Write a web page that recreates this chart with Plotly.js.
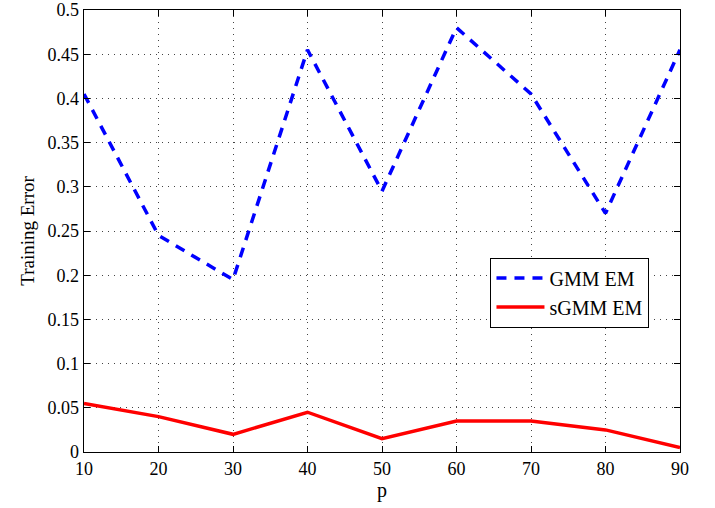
<!DOCTYPE html>
<html><head><meta charset="utf-8">
<script src="https://cdn.plot.ly/plotly-3.0.1.min.js"></script>
<style>body{margin:0;background:#fff}#c{width:715px;height:508px}</style>
</head><body><div id="c"></div>
<script>
const pValues = [10, 20, 30, 40, 50, 60, 70, 80, 90];
const gmmEM = [0.405, 0.245, 0.195, 0.455, 0.295, 0.48, 0.405, 0.27, 0.455];
const sgmmEM = [0.055, 0.04, 0.02, 0.045, 0.015, 0.035, 0.035, 0.025, 0.005];
const yTicks = [0, 0.05, 0.1, 0.15, 0.2, 0.25, 0.3, 0.35, 0.4, 0.45, 0.5];
const yTickText = ['0', '0.05', '0.1', '0.15', '0.2', '0.25', '0.3', '0.35', '0.4', '0.45', '0.5'];

const font = {family: 'Liberation Serif', size: 18, color: '#000'};
const traces = [
  {x: pValues, y: gmmEM, name: 'GMM EM', mode: 'lines', line: {color: '#0000ff', width: 3.5, dash: '10px,8px'}},
  {x: pValues, y: sgmmEM, name: 'sGMM EM', mode: 'lines', line: {color: '#ff0000', width: 3.5}}
];
const axisCommon = {
  showline: true, linecolor: '#000', linewidth: 1.3, mirror: 'ticks',
  ticks: 'inside', ticklen: 6, tickcolor: '#000',
  showgrid: true, gridcolor: '#444', griddash: '1px,5px', gridwidth: 1,
  zeroline: false, tickfont: font
};
const layout = {
  width: 715, height: 508,
  margin: {l: 84, r: 35, t: 10, b: 56},
  paper_bgcolor: '#fff', plot_bgcolor: '#fff',
  font: font,
  showlegend: true,
  legend: {x: 0.682, y: 0.44, xanchor: 'left', yanchor: 'top', bordercolor: '#000', borderwidth: 1,
           itemwidth: 48,
           bgcolor: '#fff', font: {family: 'Liberation Serif', size: 20, color: '#000'}, tracegroupgap: 0},
  xaxis: Object.assign({}, axisCommon, {range: [10, 90], tickvals: pValues, ticktext: pValues.map(String),
          title: {text: 'p', font: {family: 'Liberation Serif', size: 20, color: '#000'}, standoff: 4}}),
  yaxis: Object.assign({}, axisCommon, {range: [0, 0.5], tickvals: yTicks, ticktext: yTickText,
          title: {text: 'Training Error', font: {family: 'Liberation Serif', size: 19, color: '#000'}, standoff: 8}})
};
Plotly.newPlot('c', traces, layout, {displayModeBar: false, staticPlot: true});
</script></body></html>
